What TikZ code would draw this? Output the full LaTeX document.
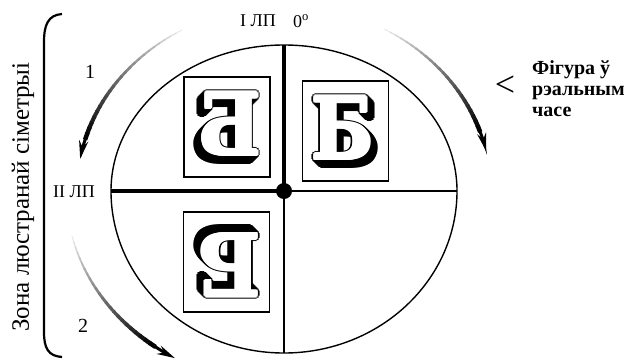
\documentclass[tikz,border=0pt]{standalone}
\usepackage{fontspec}
\setmainfont{Liberation Serif}
\newfontfamily\glyphfont{DejaVu Serif}
\usetikzlibrary{arrows.meta, calc}

\tikzset{
    lbl/.style={font=\fontsize{18}{20}\selectfont, inner sep=0pt},
    axisthick/.style={line width=4.5pt},
    axisthin/.style={line width=1.2pt},
    letterbox/.style={draw, line width=1.3pt, minimum width=86pt, minimum height=100pt, inner sep=0pt},
    glyph/.style={font=\glyphfont\bfseries\fontsize{86}{86}\selectfont, inner sep=0pt, transform shape, xscale=0.84},
    shadowb/.pic={
        \begin{scope}[shift={(-3,3)}]
            % black extrusion and outline
            \foreach \s in {0,1,...,6}
                \foreach \a in {0,45,...,315}
                    \node[glyph] at ($(\s,-\s)+(\a:3)$) {Б};
            % fattened white face
            \foreach \a in {0,45,...,315}
                \node[glyph, text=white] at (\a:1.4) {Б};
            \node[glyph, text=white] at (0,0) {Б};
        \end{scope}
    }
}

\begin{document}
\begin{tikzpicture}[>=latex, x=1pt, y=1pt]
    \useasboundingbox (0,0) rectangle (628,360);
    \coordinate (ctr) at (284,169);
    \coordinate (top) at (284,315);
    \coordinate (bot) at (284,7);
    \coordinate (lft) at (111,169);
    \coordinate (rgt) at (457,169);

    % circle of the dial
    \draw[line width=1.4pt] ($(ctr)+(173,0)$)
        arc[start angle=0, end angle=180, x radius=173pt, y radius=146pt]
        arc[start angle=180, end angle=360, x radius=173pt, y radius=162pt] -- cycle;
    \draw[axisthin] (ctr) -- (bot);
    \draw[axisthin] (ctr) -- (rgt);
    \draw[axisthick] (top) -- (ctr) -- (lft);
    \fill (ctr) circle (8pt);

    % letter frames
    \node[letterbox] (boxTL) at (227,233) {};
    \node[letterbox] (boxTR) at (345.5,229) {};
    \node[letterbox] (boxBL) at (226.5,98) {};
    \pic at (boxTR) {shadowb};
    \pic[xscale=-1] at (boxTL) {shadowb};
    \pic[rotate=180] at (boxBL) {shadowb};

    % labels
    \node[lbl] (lp1) at (258,339) {I ЛП};
    \node[lbl] (deg) at (301,339) {0\textsuperscript{o}};
    \node[lbl] (lp2) at (74,168) {II ЛП};
    \node[lbl, font=\fontsize{20}{22}\selectfont] (n1) at (90,288) {1};
    \node[lbl, font=\fontsize{20}{22}\selectfont] (n2) at (83,34) {2};
    \node[rotate=90, inner sep=0pt, font=\fontsize{25}{27}\selectfont] (zona) at (23,163) {Зона люстранай сіметрыі};
    \node[inner sep=0pt, font=\fontsize{36}{36}\selectfont] (lt) at (505,274) {<};
    \node[anchor=north west, inner sep=0pt, align=left, font=\bfseries\fontsize{20}{21}\selectfont] (real) at (532,300) {Фігура ў\\рэальным\\часе};

    % bracket
    \draw[line width=2.2pt] (62,346) .. controls (48,345) and (44,335) .. (44,318) -- (44,28) .. controls (44,12) and (48,4) .. (62,3);

    % fading arrows
    \foreach \i in {0,...,23} {
        \pgfmathsetmacro\ta{119.5+\i*44/24}
        \pgfmathsetmacro\tb{\ta+44/24+0.4}
        \pgfmathsetmacro\gs{8+\i*92/23}
        \pgfmathsetmacro\lw{1.2+\i*3.3/23}
        \draw[line width=\lw pt, black!\gs] ($(ctr)+(\ta:207pt and 185pt)$) arc[start angle=\ta, end angle=\tb, x radius=207pt, y radius=185pt];
    }
    \draw[line width=3pt, -{Stealth[length=18pt, width=9pt]}] ($(ctr)+(163:207pt and 185pt)$) arc[start angle=163, end angle=170, x radius=207pt, y radius=185pt];

    \foreach \i in {0,...,23} {
        \pgfmathsetmacro\ta{61-\i*42/24}
        \pgfmathsetmacro\tb{\ta-42/24-0.4}
        \pgfmathsetmacro\gs{8+\i*92/23}
        \pgfmathsetmacro\lw{1.2+\i*3.3/23}
        \draw[line width=\lw pt, black!\gs] ($(ctr)+(\ta:207pt and 185pt)$) arc[start angle=\ta, end angle=\tb, x radius=207pt, y radius=185pt];
    }
    \draw[line width=3pt, -{Stealth[length=18pt, width=9pt]}] ($(ctr)+(19:207pt and 185pt)$) arc[start angle=19, end angle=12.5, x radius=207pt, y radius=185pt];

    \foreach \i in {0,...,23} {
        \pgfmathsetmacro\ta{193.5+\i*40/24}
        \pgfmathsetmacro\tb{\ta+40/24+0.4}
        \pgfmathsetmacro\gs{8+\i*92/23}
        \pgfmathsetmacro\lw{1.2+\i*3.3/23}
        \draw[line width=\lw pt, black!\gs] ($(ctr)+(\ta:218pt and 193pt)$) arc[start angle=\ta, end angle=\tb, x radius=218pt, y radius=193pt];
    }
    \draw[line width=3pt, -{Stealth[length=18pt, width=9pt]}] ($(ctr)+(233.5:218pt and 193pt)$) arc[start angle=233.5, end angle=240, x radius=218pt, y radius=193pt];
\end{tikzpicture}
\end{document}
